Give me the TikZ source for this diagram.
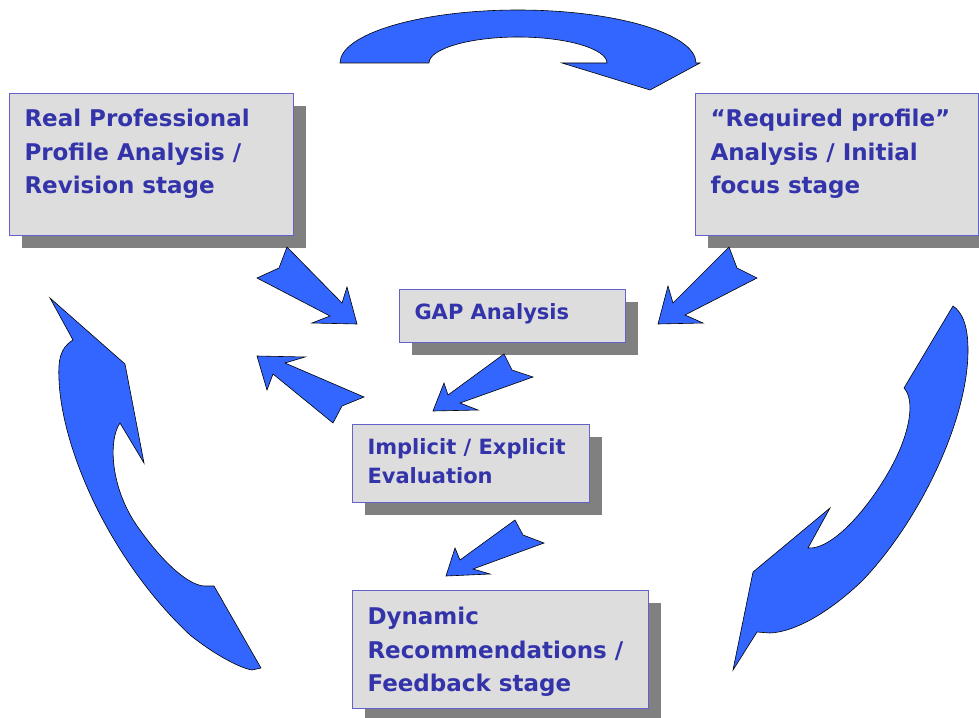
\documentclass[tikz,border=0pt]{standalone}
\usepackage{fontspec}
\setmainfont{DejaVu Sans}
\usetikzlibrary{shadows}
\definecolor{stageblue}{HTML}{3333AA}
\definecolor{stageline}{HTML}{6262C8}
\definecolor{stagefill}{HTML}{DDDDDD}
\definecolor{shadowgray}{HTML}{808080}
\definecolor{arrowblue}{HTML}{3366FF}
\tikzstyle{stage}=[
  draw=stageline, fill=stagefill, line width=1pt, inner sep=0pt, anchor=north west,
  text=stageblue, drop shadow={fill=shadowgray, opacity=1, shadow xshift=12pt, shadow yshift=-12pt}
]
\tikzstyle{bigtext}=[font=\bfseries\fontsize{23}{33.5}\selectfont]
\tikzstyle{smalltext}=[font=\bfseries\fontsize{21}{29}\selectfont]
\tikzstyle{blockarrow}=[
  fill=arrowblue, draw=black, line width=0.6pt, line join=miter
]
% box of width #1, height #2, first baseline #3 below the top
\newcommand{\stagetext}[4]{\parbox[t][#2][t]{#1}{\raggedright\setlength{\leftskip}{15pt}\rule{0pt}{#3}#4}}

\begin{document}
\begin{tikzpicture}[x=1pt,y=-1pt]
  \useasboundingbox (0,0) rectangle (979,717);
  \clip (0,0) rectangle (979,717);
  % stages
  \node (real) at (9,93) [stage,bigtext] {\stagetext{284pt}{142pt}{33pt}{Real Professional\\Profile Analysis /\\Revision stage}};
  \node (required) at (695,93) [stage,bigtext] {\stagetext{283pt}{142pt}{33pt}{“Required profile”\\Analysis / Initial\\focus stage}};
  \node (gap) at (399,289) [stage,smalltext] {\stagetext{226pt}{53pt}{30pt}{GAP Analysis}};
  \node (evaluation) at (352,424) [stage,smalltext] {\stagetext{237pt}{78pt}{30pt}{Implicit / Explicit\\Evaluation}};
  \node (feedback) at (352,590) [stage,bigtext] {\stagetext{296pt}{118pt}{34pt}{Dynamic\\Recommendations /\\Feedback stage}};
  % cycle arrows
  \filldraw[blockarrow] (340,63) .. controls (340,34) and (420,10) .. (518,10)
    .. controls (616,10) and (696,34) .. (696,63) -- (700,63) -- (650,90) -- (562,63) -- (607,63)
    .. controls (607,49) and (567,37) .. (518,37) .. controls (469,37) and (429,49) .. (429,63) -- cycle;
  \filldraw[blockarrow] (953,306) .. controls (962,312) and (968,325) .. (968,350)
    .. controls (968,420) and (920,520) .. (863,580) .. controls (830,612) and (795,632) .. (770,633)
    -- (757,632) -- (733,670) -- (753,572) -- (830,508) -- (808,548)
    .. controls (835,550) and (875,500) .. (895,460) .. controls (910,430) and (915,400) .. (904,388) -- cycle;
  \filldraw[blockarrow] (50,298) -- (125,364) -- (144,463) -- (120,423)
    .. controls (108,440) and (110,490) .. (140,530) .. controls (165,565) and (190,586) .. (205,586)
    -- (214,586) -- (261,668) -- (252,670)
    .. controls (240,668) and (215,655) .. (190,635) .. controls (110,560) and (62,450) .. (59,380)
    .. controls (58,360) and (60,348) .. (73,340) -- cycle;
  % inner arrows
  \filldraw[blockarrow] (287,247) -- (279,268) -- (257,278) -- (330,316) -- (312,323) -- (357,324) -- (347,287) -- (342,303) -- cycle;
  \filldraw[blockarrow] (729,247) -- (737,268) -- (757,278) -- (685,315) -- (703,323) -- (658,324) -- (668,286) -- (673,303) -- cycle;
  \filldraw[blockarrow] (504,354) -- (512,370) -- (533,377) -- (460,403) -- (478,410) -- (433,411) -- (444,383) -- (448,395) -- cycle;
  \filldraw[blockarrow] (257,356) -- (305,357) -- (285,363) -- (364,397) -- (342,406) -- (333,423) -- (273,374) -- (267,390) -- cycle;
  \filldraw[blockarrow] (515,520) -- (523,535) -- (544,543) -- (473,569) -- (490,574) -- (446,576) -- (455,548) -- (460,560) -- cycle;
\end{tikzpicture}
\end{document}
